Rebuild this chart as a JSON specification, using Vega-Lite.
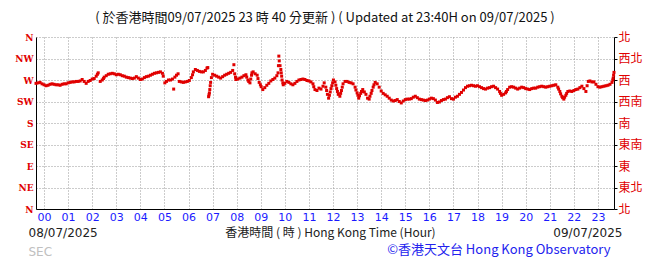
{
  "$schema": "https://vega.github.io/schema/vega-lite/v6.json",
  "width": 578,
  "height": 172,
  "autosize": "none",
  "padding": {"left": 36, "top": 37, "right": 41, "bottom": 50},
  "background": "white",
  "title": {"text": "( 於香港時間09/07/2025 23 時 40 分更新 ) ( Updated at 23:40H on 09/07/2025 )", "anchor": "middle", "fontSize": 13, "fontWeight": "normal", "font": "Noto Sans CJK TC", "color": "#111111", "offset": 6},
  "config": {"view": {"stroke": null}, "axis": {"titleFontWeight": "normal", "labelFontWeight": "normal"}},
  "data": {"values": [
    {"t":-20,"d":263},{"t":-15,"d":264},{"t":-10,"d":265},{"t":-5,"d":262},{"t":0,"d":260},{"t":5,"d":258},{"t":10,"d":259},{"t":15,"d":261},{"t":20,"d":262},{"t":25,"d":261},{"t":30,"d":260},{"t":35,"d":260},{"t":40,"d":259},{"t":45,"d":261},{"t":50,"d":262},{"t":55,"d":262},{"t":60,"d":264},{"t":65,"d":265},{"t":70,"d":266},{"t":75,"d":266},{"t":80,"d":267},{"t":85,"d":267},{"t":90,"d":268},{"t":95,"d":271},{"t":100,"d":267},{"t":105,"d":263},{"t":110,"d":267},{"t":115,"d":269},{"t":120,"d":272},{"t":125,"d":273},{"t":130,"d":278},{"t":133,"d":282},{"t":135,"d":285},
    {"t":140,"d":267},{"t":145,"d":270},{"t":148,"d":273},{"t":150,"d":276},{"t":155,"d":279},{"t":160,"d":282},{"t":165,"d":283},{"t":170,"d":284},{"t":175,"d":283},{"t":180,"d":281},{"t":185,"d":282},{"t":190,"d":281},{"t":195,"d":279},{"t":200,"d":278},{"t":205,"d":276},{"t":210,"d":275},{"t":215,"d":274},{"t":220,"d":273},{"t":225,"d":274},{"t":230,"d":277},{"t":235,"d":274},{"t":240,"d":271},{"t":245,"d":272},{"t":250,"d":275},{"t":255,"d":277},{"t":260,"d":278},{"t":265,"d":280},{"t":270,"d":282},{"t":275,"d":284},{"t":280,"d":285},{"t":285,"d":286},{"t":290,"d":287},{"t":295,"d":284},{"t":297,"d":278},
    {"t":301,"d":264},{"t":305,"d":267},{"t":310,"d":270},{"t":315,"d":270},{"t":320,"d":272},{"t":323,"d":251},{"t":326,"d":276},{"t":330,"d":280},{"t":334,"d":283},
    {"t":337,"d":267},{"t":342,"d":266},{"t":347,"d":265},{"t":352,"d":266},{"t":357,"d":267},{"t":362,"d":269},{"t":367,"d":275},{"t":370,"d":281},{"t":372,"d":287},{"t":377,"d":292},{"t":382,"d":290},{"t":387,"d":288},{"t":392,"d":287},{"t":397,"d":287},{"t":402,"d":290},{"t":406,"d":295},{"t":408,"d":296},
    {"t":410,"d":235},{"t":411,"d":239},{"t":412,"d":243},{"t":413,"d":250},{"t":414,"d":258},{"t":415,"d":265},{"t":417,"d":275},
    {"t":420,"d":282},{"t":425,"d":280},{"t":430,"d":278},{"t":435,"d":276},{"t":440,"d":274},{"t":445,"d":277},{"t":450,"d":280},{"t":455,"d":282},{"t":460,"d":284},{"t":465,"d":286},{"t":470,"d":290},{"t":473,"d":302},{"t":475,"d":283},{"t":477,"d":276},{"t":478,"d":271},{"t":483,"d":272},{"t":488,"d":274},{"t":493,"d":276},{"t":498,"d":279},{"t":503,"d":281},{"t":505,"d":276},{"t":508,"d":270},{"t":510,"d":267},{"t":513,"d":264},{"t":515,"d":272},{"t":517,"d":280},{"t":518,"d":285},{"t":521,"d":287},{"t":526,"d":283},{"t":531,"d":280},{"t":533,"d":273},{"t":536,"d":265},{"t":539,"d":260},{"t":541,"d":256},{"t":545,"d":250},{"t":550,"d":254},{"t":555,"d":259},{"t":560,"d":263},{"t":565,"d":268},{"t":570,"d":271},{"t":575,"d":274},{"t":580,"d":279},{"t":583,"d":285},{"t":584,"d":300},{"t":585,"d":320},{"t":586,"d":310},{"t":588,"d":300},{"t":590,"d":292},{"t":591,"d":285},{"t":592,"d":278},{"t":593,"d":270},{"t":595,"d":264},{"t":596,"d":260},
    {"t":600,"d":263},{"t":605,"d":267},{"t":610,"d":265},{"t":615,"d":262},{"t":620,"d":260},{"t":625,"d":263},{"t":630,"d":267},{"t":635,"d":270},{"t":640,"d":271},{"t":645,"d":272},{"t":650,"d":271},{"t":655,"d":269},{"t":660,"d":268},{"t":665,"d":266},{"t":670,"d":262},{"t":672,"d":256},{"t":675,"d":250},{"t":680,"d":248},{"t":685,"d":253},{"t":690,"d":251},{"t":695,"d":257},{"t":698,"d":264},{"t":702,"d":255},{"t":704,"d":248},{"t":706,"d":240},{"t":709,"d":232},{"t":711,"d":238},{"t":713,"d":245},{"t":715,"d":252},{"t":717,"d":258},{"t":719,"d":264},{"t":721,"d":270},{"t":725,"d":266},{"t":727,"d":259},{"t":729,"d":252},{"t":731,"d":246},{"t":733,"d":240},{"t":737,"d":236},{"t":739,"d":242},{"t":741,"d":248},{"t":743,"d":255},{"t":745,"d":262},{"t":750,"d":267},{"t":755,"d":267},{"t":760,"d":265},{"t":765,"d":264},{"t":770,"d":262},{"t":775,"d":255},{"t":777,"d":249},{"t":780,"d":243},{"t":782,"d":238},{"t":784,"d":232},{"t":786,"d":237},{"t":789,"d":242},{"t":791,"d":246},{"t":794,"d":250},{"t":798,"d":245},{"t":802,"d":240},{"t":806,"d":232},{"t":810,"d":230},{"t":812,"d":236},{"t":815,"d":242},{"t":817,"d":248},{"t":820,"d":255},{"t":822,"d":260},{"t":825,"d":265},{"t":830,"d":262},{"t":835,"d":255},{"t":840,"d":247},{"t":845,"d":242},{"t":850,"d":239},{"t":855,"d":236},{"t":860,"d":232},{"t":865,"d":228},{"t":870,"d":226},{"t":875,"d":227},{"t":880,"d":229},{"t":885,"d":225},{"t":890,"d":222},{"t":895,"d":226},
    {"t":900,"d":229},{"t":905,"d":230},{"t":910,"d":230},{"t":915,"d":231},{"t":920,"d":234},{"t":925,"d":236},{"t":930,"d":233},{"t":935,"d":230},{"t":940,"d":229},{"t":945,"d":228},{"t":950,"d":227},{"t":955,"d":228},{"t":960,"d":230},{"t":965,"d":232},{"t":970,"d":231},{"t":975,"d":228},{"t":980,"d":223},{"t":985,"d":224},{"t":990,"d":227},{"t":995,"d":229},{"t":1000,"d":230},{"t":1005,"d":233},{"t":1010,"d":235},{"t":1015,"d":231},{"t":1020,"d":230},{"t":1025,"d":234},{"t":1030,"d":236},{"t":1035,"d":240},{"t":1040,"d":244},{"t":1045,"d":249},{"t":1050,"d":254},{"t":1055,"d":257},{"t":1060,"d":258},{"t":1065,"d":259},{"t":1070,"d":258},{"t":1075,"d":257},{"t":1080,"d":258},{"t":1085,"d":256},{"t":1090,"d":254},{"t":1095,"d":252},{"t":1100,"d":251},{"t":1105,"d":253},{"t":1110,"d":254},{"t":1115,"d":256},{"t":1120,"d":257},{"t":1125,"d":254},{"t":1130,"d":251},{"t":1135,"d":246},{"t":1137,"d":242},{"t":1140,"d":238},{"t":1145,"d":240},{"t":1150,"d":243},{"t":1152,"d":246},{"t":1155,"d":250},{"t":1160,"d":255},{"t":1165,"d":256},{"t":1170,"d":255},{"t":1175,"d":253},{"t":1180,"d":251},{"t":1185,"d":253},{"t":1190,"d":255},{"t":1195,"d":254},
    {"t":1200,"d":252},{"t":1205,"d":251},{"t":1210,"d":250},{"t":1215,"d":252},{"t":1220,"d":253},{"t":1225,"d":253},{"t":1230,"d":255},{"t":1235,"d":256},{"t":1240,"d":257},{"t":1245,"d":256},{"t":1250,"d":255},{"t":1255,"d":256},{"t":1260,"d":257},{"t":1265,"d":258},{"t":1270,"d":259},{"t":1275,"d":260},{"t":1280,"d":255},{"t":1282,"d":251},{"t":1285,"d":246},{"t":1287,"d":241},{"t":1290,"d":236},{"t":1292,"d":233},{"t":1295,"d":230},{"t":1297,"d":234},{"t":1300,"d":238},{"t":1302,"d":242},{"t":1305,"d":246},{"t":1310,"d":247},{"t":1315,"d":246},{"t":1320,"d":248},{"t":1325,"d":250},{"t":1330,"d":251},{"t":1335,"d":254},{"t":1340,"d":257},{"t":1345,"d":252},{"t":1350,"d":246},{"t":1353,"d":258},{"t":1356,"d":267},{"t":1360,"d":268},{"t":1365,"d":266},{"t":1370,"d":266},{"t":1375,"d":261},{"t":1380,"d":256},{"t":1385,"d":255},{"t":1390,"d":256},{"t":1395,"d":257},{"t":1400,"d":258},{"t":1405,"d":259},{"t":1410,"d":261},{"t":1415,"d":265},{"t":1417,"d":270},{"t":1418,"d":274},{"t":1419,"d":280},{"t":1420,"d":286}
  ]},
  "layer": [
    {
      "mark": {"type": "square", "filled": true, "size": 9, "color": "#e00000", "opacity": 1},
      "encoding": {
        "x": {"field": "t", "type": "quantitative", "scale": {"domain": [-20, 1420], "nice": false, "zero": false},
          "axis": {"orient": "bottom", "values": [0,60,120,180,240,300,360,420,480,540,600,660,720,780,840,900,960,1020,1080,1140,1200,1260,1320,1380],
            "labelExpr": "format(datum.value/60, '02d')", "labelColor": "#1a1aff", "labelFont": "DejaVu Sans", "labelFontSize": 11, "labelPadding": 2,
            "grid": true, "gridColor": "#999999", "gridDash": [1, 2], "gridWidth": 1, "domain": true, "domainColor": "#000000", "domainWidth": 1, "ticks": false,
            "title": "香港時間 ( 時 ) Hong Kong Time (Hour)", "titleFont": "Noto Sans CJK TC", "titleFontSize": 12, "titleColor": "#222222", "titleX": 294, "titleY": 27, "titleBaseline": "alphabetic", "titleAlign": "center"}},
        "y": {"field": "d", "type": "quantitative", "scale": {"domain": [0, 360], "nice": false, "zero": false},
          "axis": {"orient": "left", "values": [0,45,90,135,180,225,270,315,360],
            "labelExpr": "['N','NE','E','SE','S','SW','W','NW','N'][datum.value/45]", "labelColor": "#e00000", "labelFont": "DejaVu Serif", "labelFontWeight": "bold", "labelFontSize": 9, "labelPadding": 3,
            "grid": true, "gridColor": "#999999", "gridDash": [1, 2], "gridWidth": 1, "domain": true, "domainColor": "#000000", "ticks": false,
            "title": "08/07/2025", "titleAngle": 0, "titleFont": "DejaVu Sans", "titleFontSize": 12, "titleColor": "#222222", "titleX": -8, "titleY": 199, "titleAlign": "left", "titleBaseline": "alphabetic"}}
      }
    },
    {
      "mark": {"type": "square", "filled": true, "size": 9, "color": "#e00000", "opacity": 0},
      "encoding": {
        "x": {"field": "t", "type": "quantitative", "scale": {"domain": [-20, 1420], "nice": false, "zero": false},
          "axis": {"orient": "bottom", "labels": false, "ticks": false, "domain": false, "grid": false,
            "title": "©香港天文台 Hong Kong Observatory", "titleFont": "Noto Sans CJK TC", "titleFontSize": 13, "titleColor": "#2222ee", "titleX": 574, "titleY": 44, "titleAlign": "right", "titleBaseline": "alphabetic"}},
        "y": {"field": "d", "type": "quantitative", "scale": {"domain": [0, 360], "nice": false, "zero": false},
          "axis": {"orient": "right", "values": [0,45,90,135,180,225,270,315,360],
            "labelExpr": "['北','東北','東','東南','南','西南','西','西北','北'][datum.value/45]", "labelColor": "#e00000", "labelFont": "Noto Sans CJK TC", "labelFontSize": 12, "labelPadding": 1,
            "grid": false, "domain": true, "domainColor": "#000000", "ticks": true, "tickSize": 3, "tickColor": "#000000",
            "title": "09/07/2025", "titleAngle": 0, "titleFont": "DejaVu Sans", "titleFontSize": 12, "titleColor": "#222222", "titleX": 8, "titleY": 199, "titleAlign": "right", "titleBaseline": "alphabetic"}}
      }
    },
    {
      "mark": {"type": "square", "filled": true, "size": 9, "color": "#e00000", "opacity": 0},
      "encoding": {
        "x": {"field": "t", "type": "quantitative", "scale": {"domain": [-20, 1420], "nice": false, "zero": false},
          "axis": {"orient": "bottom", "labels": false, "ticks": false, "domain": false, "grid": false,
            "title": "SEC", "titleFont": "DejaVu Sans", "titleFontSize": 12, "titleColor": "#c0c0c0", "titleX": -8, "titleY": 46, "titleAlign": "left", "titleBaseline": "alphabetic"}},
        "y": {"field": "d", "type": "quantitative", "scale": {"domain": [0, 360], "nice": false, "zero": false}, "axis": null}
      }
    }
  ],
  "resolve": {"axis": {"x": "independent", "y": "independent"}}
}
